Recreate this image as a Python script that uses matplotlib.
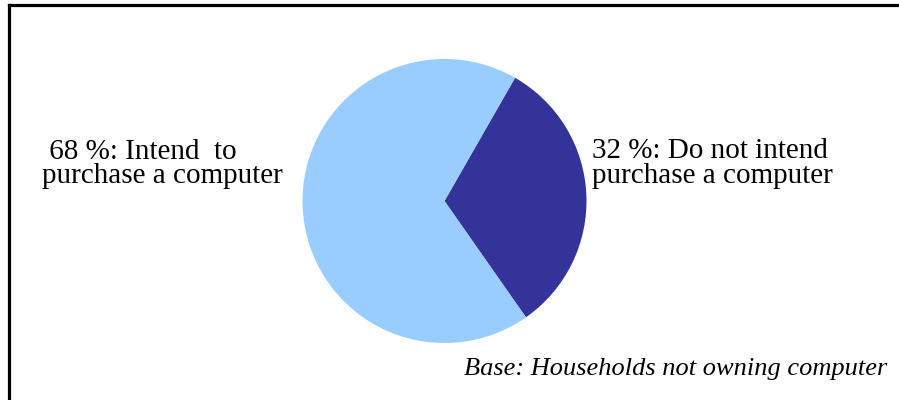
import matplotlib
matplotlib.use("Agg")
import matplotlib.pyplot as plt
from matplotlib.lines import Line2D

# data
shares = [32, 68]
answers = ["Do not intend\npurchase a computer", "Intend  to\npurchase a computer"]
colors = ["#333399", "#99CCFF"]
base_note = "Base: Households not owning computer"

W, H = 899, 400
fig = plt.figure(figsize=(W / 100, H / 100), dpi=100)
fig.patch.set_facecolor("white")

# frame: only top and left edges show in the picture
fig.add_artist(Line2D([9 / W, 1], [1 - 5 / H, 1 - 5 / H], color="black", lw=2.3,
                      transform=fig.transFigure, solid_capstyle="projecting"))
fig.add_artist(Line2D([9 / W, 9 / W], [0, 1 - 5 / H], color="black", lw=2.3,
                      transform=fig.transFigure, solid_capstyle="projecting"))

# pie, centre (444.5, 201) px, radius 142 px
cx, cy, r = 444.5, 201, 142
ax = fig.add_axes([(cx - r) / W, (H - cy - r) / H, 2 * r / W, 2 * r / H])
ax.pie(shares, colors=colors, startangle=-55, counterclock=True,
       wedgeprops=dict(linewidth=0))
ax.set_xlim(-1, 1)
ax.set_ylim(-1, 1)
ax.set_aspect("equal")
ax.axis("off")

font = dict(family="Liberation Serif", size=21, color="black")

def put_label(x, ys, pct, text, indent=""):
    lines = text.split("\n")
    lines[0] = f"{indent}{pct} %: {lines[0]}"
    for y, line in zip(ys, lines):
        fig.text(x / W, 1 - y / H, line, ha="left", va="baseline", **font)

# left label (68 %), right label (32 %)
put_label(42, [159, 183], shares[1], answers[1], indent=" ")
put_label(592, [158, 183], shares[0], answers[0])

fig.text(887 / W, 1 - 375 / H, base_note, ha="right", va="baseline",
         family="Liberation Serif", style="italic", size=19, color="black")

fig.savefig("out.png", dpi=100)
